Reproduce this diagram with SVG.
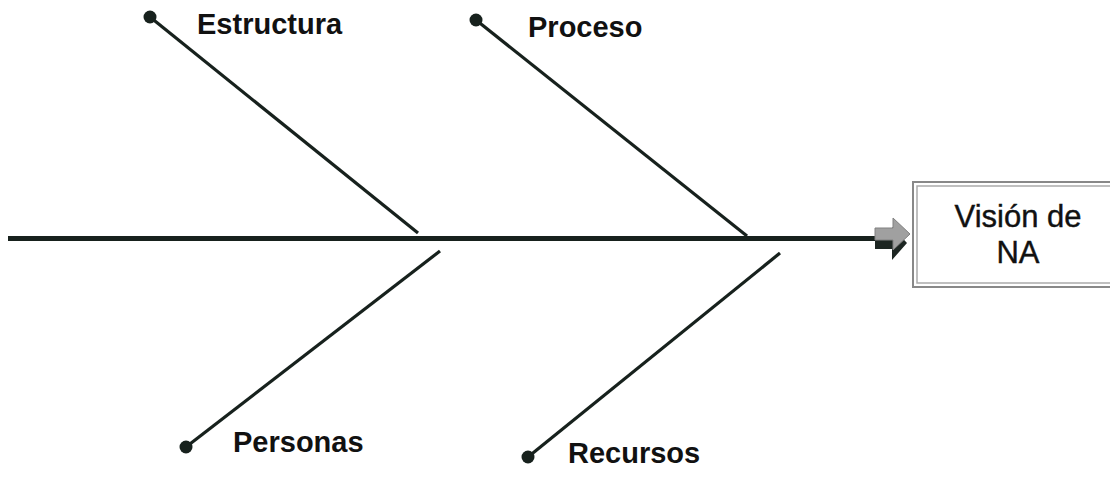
<svg xmlns="http://www.w3.org/2000/svg" width="1110" height="480" viewBox="0 0 1110 480">
<style>
.ln{stroke:#17211d;stroke-width:3.2;stroke-linecap:butt;fill:none}
.dot{fill:#17211d}
.lbl{font-family:"Liberation Sans",Arial,sans-serif;font-weight:bold;font-size:29px;fill:#111}
.box{font-family:"Liberation Sans",Arial,sans-serif;font-size:31px;fill:#111;text-anchor:middle;stroke:#111;stroke-width:0.4}
</style>
<rect width="1110" height="480" fill="#fff"/>
<g id="connectors">
<line class="ln" x1="8" y1="238.5" x2="878" y2="238.5" style="stroke-width:5"/>
<line class="ln" x1="150" y1="17" x2="418" y2="233"/>
<line class="ln" x1="476" y1="20" x2="747" y2="236"/>
<line class="ln" x1="440" y1="251" x2="186" y2="447"/>
<line class="ln" x1="780" y1="253" x2="528" y2="457"/>
<polygon points="875,237 892,237 892,227 907,243 892,260 892,249 875,249" fill="#1d2622"/>
<polygon points="875,228 893,228 893,218 910,234 893,250 893,240 875,240" fill="#a0a0a0" stroke="#808080" stroke-width="1"/>
</g>
<g id="estructura"><circle class="dot" cx="150" cy="17" r="6.5"/><text class="lbl" x="197" y="34">Estructura</text></g>
<g id="proceso"><circle class="dot" cx="476" cy="20" r="6.5"/><text class="lbl" x="528" y="37">Proceso</text></g>
<g id="personas"><circle class="dot" cx="186" cy="447" r="6.5"/><text class="lbl" x="233" y="452">Personas</text></g>
<g id="recursos"><circle class="dot" cx="528" cy="457" r="6.5"/><text class="lbl" x="568" y="463">Recursos</text></g>
<g id="vision">
<rect x="913" y="182" width="200" height="105" fill="#fff" stroke="#888" stroke-width="2"/>
<rect x="917" y="186" width="200" height="97" fill="none" stroke="#aaa" stroke-width="1.5"/>
<text class="box" x="1018" y="227">Visión de</text>
<text class="box" x="1018" y="263">NA</text>
</g>
</svg>
